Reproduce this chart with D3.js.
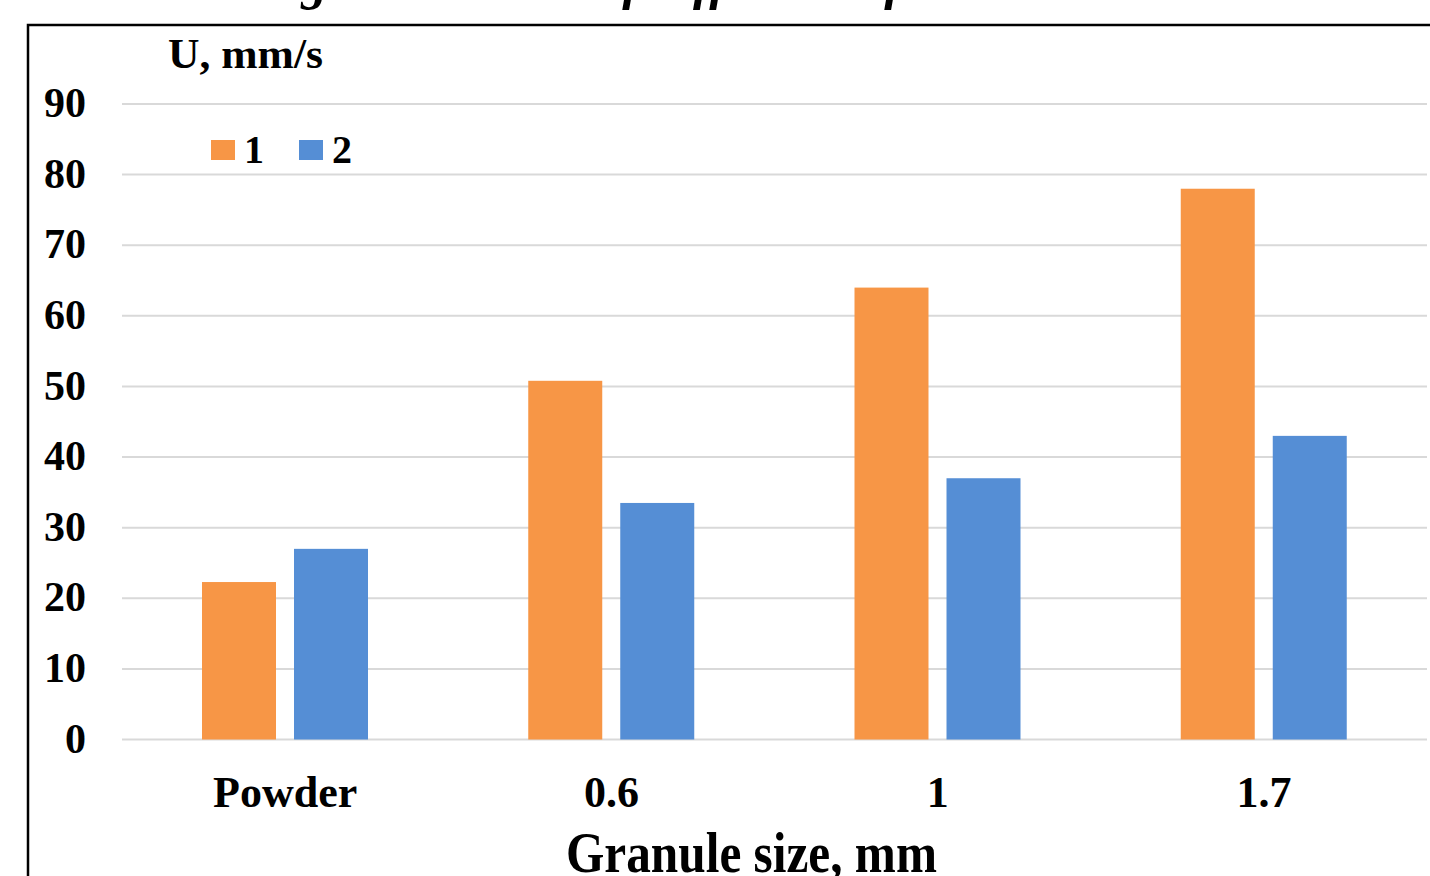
<!DOCTYPE html>
<html>
<head>
<meta charset="utf-8">
<script src="https://cdn.jsdelivr.net/npm/d3@7"></script>
<style>
  html, body { margin: 0; padding: 0; background: #fff; }
  svg { display: block; }
  text { font-family: "Liberation Serif", "Times New Roman", serif; font-weight: bold; fill: #000; }
</style>
</head>
<body>
<svg id="chart" width="1430" height="876"></svg>
<script>
// ---- data ----
const categories = ["Powder", "0.6", "1", "1.7"];
const seriesNames = ["1", "2"];
const series1 = [22.3, 50.8, 64, 78];
const series2 = [27, 33.5, 37, 43];
const yTicks = [0, 10, 20, 30, 40, 50, 60, 70, 80, 90];
const colors = ["#F79646", "#558ED5"];
const yTitle = "U, mm/s";
const xTitle = "Granule size, mm";
const topTitle = "Change in the rate of diffusion of the solution";

const svg = d3.select("#chart");
const W = 1430, H = 876;

// cropped title above frame (only descenders visible)
svg.append("text")
  .attr("x", 183).attr("y", -1)
  .style("font-size", "52px").style("font-style", "italic")
  .text(topTitle);

// white panel + frame
svg.append("rect").attr("x", 28).attr("y", 25).attr("width", W + 10).attr("height", H)
  .attr("fill", "#fff").attr("stroke", "#000").attr("stroke-width", 2.5);

const plotL = 122, plotR = 1427, y0px = 739.5, y90px = 104;

const y = d3.scaleLinear().domain([0, 90]).range([y0px, y90px]);
const x0 = d3.scaleBand().domain(categories).range([plotL, plotR]).padding(0);
const x1 = d3.scaleBand().domain(seriesNames).range([80, 246]).paddingInner(0.1957).paddingOuter(0);

// gridlines
svg.append("g").selectAll("line").data(yTicks).join("line")
  .attr("x1", plotL).attr("x2", plotR)
  .attr("y1", d => y(d)).attr("y2", d => y(d))
  .attr("stroke", "#d9d9d9").attr("stroke-width", 2);

// y axis labels
const yAxis = d3.axisLeft(y).tickValues(yTicks).tickSize(0).tickPadding(0);
const gy = svg.append("g").attr("transform", "translate(86,0)").call(yAxis);
gy.select(".domain").remove();
gy.selectAll("text")
  .style("font-family", "'Liberation Serif', serif").style("font-weight", "bold")
  .style("font-size", "42px").attr("fill", "#000").attr("dy", "0.3em");

// bars
const rows = categories.map((c, i) => ({ cat: c, vals: [series1[i], series2[i]] }));
const groups = svg.append("g").selectAll("g").data(rows).join("g")
  .attr("transform", d => `translate(${x0(d.cat)},0)`);
groups.selectAll("rect").data(d => d.vals.map((v, j) => ({ name: seriesNames[j], v, j })))
  .join("rect")
  .attr("x", d => x1(d.name))
  .attr("width", x1.bandwidth())
  .attr("y", d => y(d.v))
  .attr("height", d => y(0) - y(d.v))
  .attr("fill", d => colors[d.j]);

// x axis labels
const xAxis = d3.axisBottom(x0).tickSize(0).tickPadding(0);
const gx = svg.append("g").attr("transform", `translate(0,${y0px})`).call(xAxis);
gx.select(".domain").remove();
gx.selectAll("text")
  .style("font-family", "'Liberation Serif', serif").style("font-weight", "bold")
  .style("font-size", "44px").attr("fill", "#000")
  .attr("y", 67).attr("dy", 0);

// axis titles
svg.append("text").attr("x", 168).attr("y", 68)
  .style("font-size", "42px").attr("textLength", 155).attr("lengthAdjust", "spacingAndGlyphs")
  .text(yTitle);
svg.append("text").attr("x", 566).attr("y", 872)
  .style("font-size", "56px").attr("textLength", 371).attr("lengthAdjust", "spacingAndGlyphs")
  .text(xTitle);

// legend
const legX = [211, 299];
const leg = svg.append("g").selectAll("g").data(seriesNames).join("g")
  .attr("transform", (d, i) => `translate(${legX[i]},140)`);
leg.append("rect").attr("width", 24).attr("height", 20).attr("fill", (d, i) => colors[i]);
leg.append("text").attr("x", 33).attr("y", 23).style("font-size", "40px").text(d => d);
</script>
</body>
</html>
